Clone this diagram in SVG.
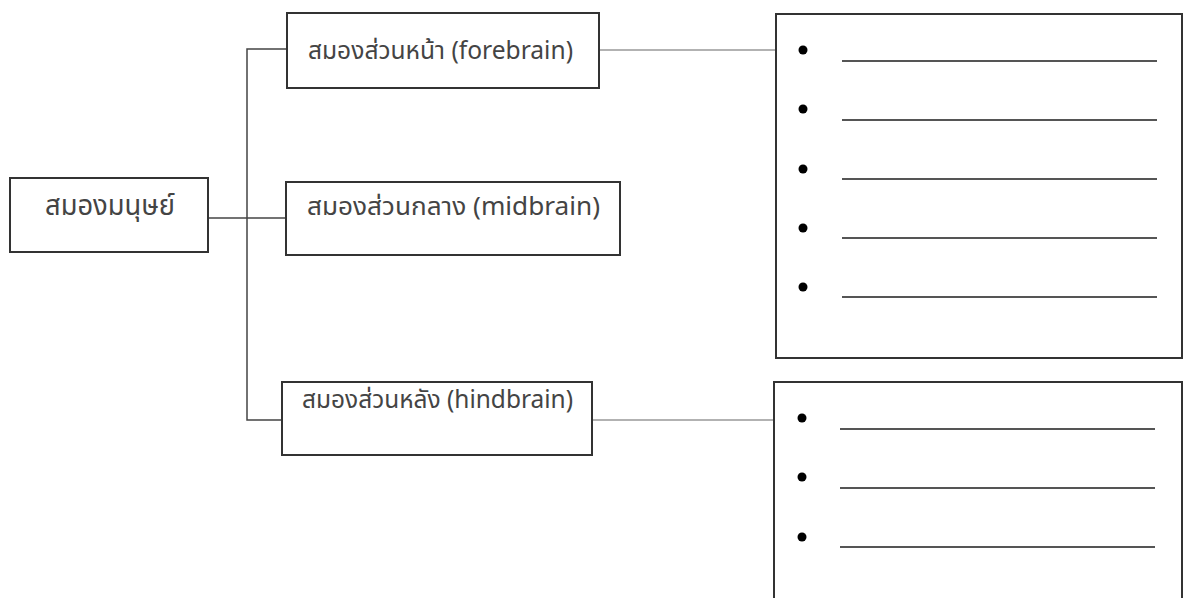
<svg xmlns="http://www.w3.org/2000/svg" width="1184" height="598" viewBox="0 0 1184 598">
<style>
.box{fill:#fff;stroke:#333;stroke-width:2}
.lbl{font-family:"Noto Sans Thai","Noto Sans","DejaVu Sans",sans-serif;font-size:25px;fill:#444}
.big{font-size:28px}
.conn{stroke:#444;stroke-width:1.5;fill:none}
.conn2{stroke:#999;stroke-width:1.5;fill:none}
.ln{stroke:#555;stroke-width:1.8}
.dot{fill:#000}
</style>
<rect width="1184" height="598" fill="#fff"/>
<g id="connectors">
<polyline class="conn" points="286,49 247,49 247,420 282,420"/>
<line class="conn" x1="208" y1="218" x2="286" y2="218"/>
<line class="conn2" x1="600" y1="50" x2="776" y2="50"/>
<line class="conn2" x1="592" y1="420" x2="774" y2="420"/>
</g>
<g id="root">
<rect class="box" x="10" y="178" width="198" height="74"/>
<text class="lbl big" x="45" y="215" textLength="130" lengthAdjust="spacingAndGlyphs">สมองมนุษย์</text>
</g>
<g id="forebrain">
<rect class="box" x="287" y="13" width="312" height="75"/>
<text class="lbl" x="308" y="59" textLength="265" lengthAdjust="spacingAndGlyphs">สมองส่วนหน้า (forebrain)</text>
</g>
<g id="midbrain">
<rect class="box" x="286" y="182" width="334" height="73"/>
<text class="lbl" x="307" y="215" textLength="293" lengthAdjust="spacingAndGlyphs">สมองส่วนกลาง (midbrain)</text>
</g>
<g id="hindbrain">
<rect class="box" x="282" y="382" width="310" height="73"/>
<text class="lbl" x="302" y="408" textLength="271" lengthAdjust="spacingAndGlyphs">สมองส่วนหลัง (hindbrain)</text>
</g>
<g id="forebrain-list">
<rect class="box" x="776" y="14" width="406" height="344"/>
<circle class="dot" cx="803" cy="50" r="4.5"/>
<circle class="dot" cx="803" cy="109" r="4.5"/>
<circle class="dot" cx="803" cy="169" r="4.5"/>
<circle class="dot" cx="803" cy="228" r="4.5"/>
<circle class="dot" cx="803" cy="287" r="4.5"/>
<line class="ln" x1="842" y1="61" x2="1157" y2="61"/>
<line class="ln" x1="842" y1="120" x2="1157" y2="120"/>
<line class="ln" x1="842" y1="179" x2="1157" y2="179"/>
<line class="ln" x1="842" y1="238" x2="1157" y2="238"/>
<line class="ln" x1="842" y1="297" x2="1157" y2="297"/>
</g>
<g id="hindbrain-list">
<rect class="box" x="774" y="382" width="408" height="230"/>
<circle class="dot" cx="802" cy="418" r="4.5"/>
<circle class="dot" cx="802" cy="477" r="4.5"/>
<circle class="dot" cx="802" cy="537" r="4.5"/>
<line class="ln" x1="840" y1="429" x2="1155" y2="429"/>
<line class="ln" x1="840" y1="488" x2="1155" y2="488"/>
<line class="ln" x1="840" y1="547" x2="1155" y2="547"/>
</g>
</svg>
